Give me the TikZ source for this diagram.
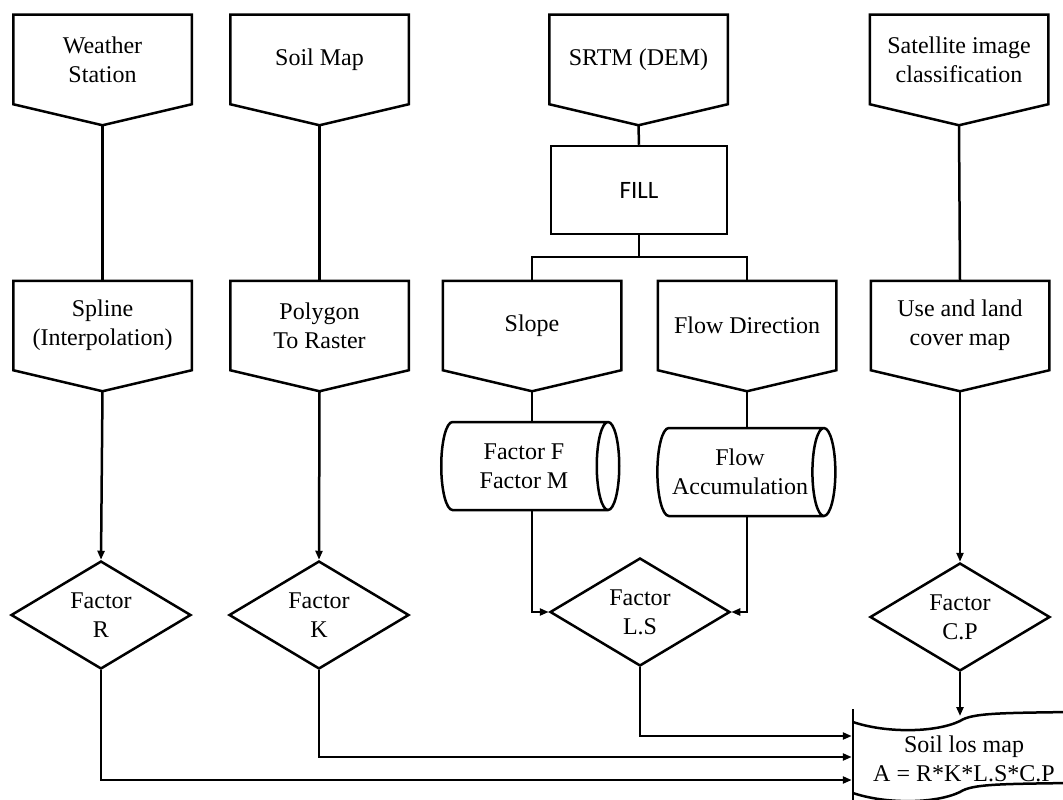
\documentclass[tikz,border=0pt]{standalone}
\usepackage{fontspec}
\setmainfont{Liberation Serif}
\newfontfamily\fillfont{Carlito}
\usetikzlibrary{shapes.geometric,arrows.meta}
\newcommand\mytag[4]{%
  \node[tagtext] (#1) at (#2,#3) {#4};
  \draw[line join=miter] (#1.north west) -- (#1.north east) -- (#1.south east)
    -- ([yshift=-21pt]#1.south) coordinate (#1-tip) -- (#1.south west) -- cycle;}
\begin{document}
\begin{tikzpicture}[x=1pt,y=-1pt,line width=2.5pt,
  txt/.style={font=\fontsize{24}{29}\selectfont, align=center, inner sep=0pt},
  tagtext/.style={txt, minimum width=176pt, minimum height=87pt},
  dia/.style={txt, draw, diamond, aspect=1.67, minimum width=180pt, minimum height=108pt},
  cyl/.style={txt, draw, cylinder, aspect=0.5, minimum width=88pt, minimum height=178pt},
  arr/.style={-{Triangle[length=9pt,width=7pt]}}]
\useasboundingbox (0,0) rectangle (1063,800);
% top row
\mytag{ws}{102.5}{59.5}{Weather\\Station}
\mytag{soilmap}{319.5}{59.5}{Soil Map}
\mytag{srtm}{638.5}{59.5}{SRTM (DEM)}
\mytag{sat}{959}{59.5}{Satellite image\\classification}
\node[draw, minimum width=176pt, minimum height=88pt, inner sep=0pt,
  font=\fillfont\fontsize{25}{30}\selectfont] (fill) at (639,190) {FILL};
% second row
\mytag{spline}{102.5}{325.5}{Spline\\(Interpolation)}
\mytag{poly}{319.5}{325.5}{Polygon\\To Raster}
\mytag{slope}{532}{325.5}{Slope}
\mytag{flowdir}{747}{325.5}{Flow Direction}
\mytag{use}{960}{325.5}{Use and land\\cover map}
% cylinders
\node[cyl] (fm) at (524,466) {Factor F\\Factor M};
\node[cyl] (fa) at (740,472) {Flow\\Accumulation};
% diamonds
\node[dia] (R) at (101,615) {Factor\\R};
\node[dia] (K) at (319,615) {Factor\\K};
\node[dia] (LS) at (640,612) {Factor\\L.S};
\node[dia] (CP) at (960,617) {Factor\\C.P};
% soil loss map
\node[txt, minimum width=222pt, minimum height=60pt] (soil) at (964,759) {Soil los map\\A = R*K*L.S*C.P};
\coordinate (soilLS) at ([yshift=23pt]soil.west);
\coordinate (soilK) at ([yshift=2pt]soil.west);
\coordinate (soilR) at ([yshift=-21pt]soil.west);
\coordinate (soiltop) at (960,716);
\begin{scope}
\clip (0,0) rectangle (1063,800);
\draw (853,709) -- (853,805);
\draw (853,722) .. controls (885,733) and (935,733) .. (960,721) .. controls (972,713) and (1000,713) .. (1070,712);
\draw (853,793) .. controls (885,804) and (935,804) .. (960,792) .. controls (972,784) and (1000,784) .. (1070,783);
\end{scope}
% connectors
\draw (ws-tip) -- (spline.north);
\draw (soilmap-tip) -- (poly.north);
\draw (srtm-tip) -- (fill.north);
\draw (sat-tip) -- (use.north);
\coordinate (br) at (639,257);
\draw (fill.south) -- (br);
\draw (slope.north) |- (br) -| (flowdir.north);
\draw (slope-tip) -- (slope-tip |- fm.north);
\draw (flowdir-tip) -- (flowdir-tip |- fa.north);
\draw[arr] (spline-tip) -- (R.north);
\draw[arr] (poly-tip) -- (K.north);
\draw[arr] (use-tip) -- (CP.north);
\draw[arr] (slope-tip |- fm.south) |- (LS.west);
\draw[arr] (flowdir-tip |- fa.south) |- (LS.east);
\draw[arr] (R.south) |- (soilR);
\draw[arr] (K.south) |- (soilK);
\draw[arr] (LS.south) |- (soilLS);
\draw[arr] (CP.south) -- (soiltop);
\end{tikzpicture}
\end{document}
